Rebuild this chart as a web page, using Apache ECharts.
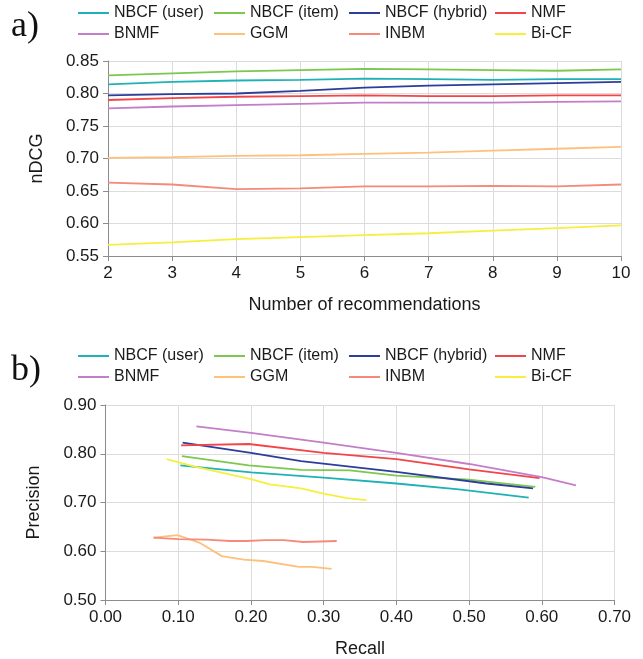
<!DOCTYPE html>
<html><head><meta charset="utf-8">
<script src="https://cdn.jsdelivr.net/npm/echarts@6/dist/echarts.min.js"></script>
<style>html,body{margin:0;padding:0;background:#fff}#c{width:643px;height:659px}</style>
</head><body><div id="c"></div>
<script>
// ---- data ----
const seriesNames = ['NBCF (user)', 'NBCF (item)', 'NBCF (hybrid)', 'NMF', 'BNMF', 'GGM', 'INBM', 'Bi-CF'];
const seriesColors = ['#1fb1b5', '#7cc84e', '#2c3d9c', '#f2454a', '#c47ec8', '#ffc07c', '#f58a7b', '#f6ef3e'];

// a) nDCG vs number of recommendations
const numRecs = [2, 3, 4, 5, 6, 7, 8, 9, 10];
const ndcgUser   = [0.814, 0.818, 0.820, 0.821, 0.823, 0.822, 0.821, 0.822, 0.822];
const ndcgItem   = [0.828, 0.831, 0.834, 0.836, 0.838, 0.837, 0.836, 0.835, 0.837];
const ndcgHybrid = [0.797, 0.799, 0.800, 0.804, 0.809, 0.812, 0.814, 0.816, 0.818];
const ndcgNMF    = [0.790, 0.793, 0.795, 0.796, 0.797, 0.796, 0.796, 0.797, 0.797];
const ndcgBNMF   = [0.777, 0.780, 0.782, 0.784, 0.786, 0.786, 0.786, 0.787, 0.788];
const ndcgGGM    = [0.701, 0.702, 0.704, 0.705, 0.707, 0.709, 0.712, 0.715, 0.718];
const ndcgINBM   = [0.663, 0.660, 0.653, 0.654, 0.657, 0.657, 0.658, 0.657, 0.660];
const ndcgBiCF   = [0.567, 0.571, 0.576, 0.579, 0.582, 0.585, 0.589, 0.593, 0.597];

// b) precision vs recall
const recallUser   = [0.103, 0.200, 0.300, 0.400, 0.486, 0.582];
const precUser     = [0.776, 0.762, 0.751, 0.739, 0.727, 0.710];
const recallItem   = [0.105, 0.197, 0.269, 0.336, 0.400, 0.500, 0.591];
const precItem     = [0.795, 0.776, 0.767, 0.766, 0.755, 0.747, 0.732];
const recallHybrid = [0.106, 0.200, 0.269, 0.400, 0.524, 0.588];
const precHybrid   = [0.823, 0.802, 0.785, 0.763, 0.739, 0.729];
const recallNMF    = [0.104, 0.197, 0.300, 0.400, 0.500, 0.597];
const precNMF      = [0.817, 0.820, 0.802, 0.789, 0.768, 0.750];
const recallBNMF   = [0.125, 0.200, 0.300, 0.400, 0.500, 0.600, 0.647];
const precBNMF     = [0.856, 0.843, 0.823, 0.802, 0.779, 0.752, 0.735];
const recallGGM    = [0.066, 0.099, 0.130, 0.160, 0.190, 0.217, 0.266, 0.284, 0.311];
const precGGM      = [0.628, 0.633, 0.617, 0.590, 0.583, 0.580, 0.568, 0.568, 0.564];
const recallINBM   = [0.066, 0.100, 0.139, 0.171, 0.194, 0.220, 0.245, 0.272, 0.318];
const precINBM     = [0.628, 0.625, 0.624, 0.621, 0.621, 0.623, 0.623, 0.619, 0.621];
const recallBiCF   = [0.084, 0.124, 0.200, 0.226, 0.269, 0.300, 0.332, 0.359];
const precBiCF     = [0.789, 0.773, 0.748, 0.737, 0.729, 0.718, 0.709, 0.705];

// ---- chart ----
const ndcgAll = [ndcgUser, ndcgItem, ndcgHybrid, ndcgNMF, ndcgBNMF, ndcgGGM, ndcgINBM, ndcgBiCF];
const recallAll = [recallUser, recallItem, recallHybrid, recallNMF, recallBNMF, recallGGM, recallINBM, recallBiCF];
const precAll = [precUser, precItem, precHybrid, precNMF, precBNMF, precGGM, precINBM, precBiCF];

const FONT = '"Liberation Sans", Arial, sans-serif';
const TXT = '#1a1a1a';
const axisLine = { show: true, lineStyle: { color: '#8c8c8c', width: 1 } };
const axisTick = { show: true, length: 5, lineStyle: { color: '#8c8c8c' } };
const splitLine = { show: true, lineStyle: { color: '#dcdcdc', width: 1 } };
const labelStyle = (fmt) => ({ fontSize: 17, color: TXT, fontFamily: FONT, margin: 9, formatter: fmt });
const nameStyle = { fontSize: 18, color: TXT, fontFamily: FONT };

const series = [];
seriesNames.forEach((n, i) => {
  series.push({
    name: n, type: 'line', xAxisIndex: 0, yAxisIndex: 0,
    symbol: 'none', showSymbol: false, smooth: false, color: seriesColors[i],
    lineStyle: { width: 1.8, color: seriesColors[i] },
    data: numRecs.map((x, k) => [x, ndcgAll[i][k]])
  });
});
seriesNames.forEach((n, i) => {
  series.push({
    name: n, type: 'line', xAxisIndex: 1, yAxisIndex: 1,
    symbol: 'none', showSymbol: false, smooth: false, color: seriesColors[i],
    lineStyle: { width: 1.8, color: seriesColors[i] },
    data: recallAll[i].map((x, k) => [x, precAll[i][k]])
  });
});

const colLefts = [77, 213, 348, 494];
const legends = [];
[5, 348].forEach(top => {
  for (let c = 0; c < 4; c++) {
    legends.push({
      orient: 'vertical', left: colLefts[c], top: top, padding: 0,
      itemWidth: 31, itemHeight: 14, itemGap: 5, selectedMode: false,
      itemStyle: { opacity: 0 },
      lineStyle: { width: 2 },
      textStyle: { fontSize: 16, color: TXT, fontFamily: FONT, lineHeight: 15 },
      data: [seriesNames[c], seriesNames[c + 4]]
    });
  }
});

const option = {
  animation: false,
  backgroundColor: '#ffffff',
  title: [
    { text: 'a)', left: 11, top: 9, padding: 0, textStyle: { fontFamily: '"Liberation Serif", serif', fontSize: 36, fontWeight: 'normal', color: '#111' } },
    { text: 'b)', left: 11, top: 353, padding: 0, textStyle: { fontFamily: '"Liberation Serif", serif', fontSize: 36, fontWeight: 'normal', color: '#111' } }
  ],
  legend: legends,
  grid: [
    { left: 108, right: 22, top: 61, bottom: 403, containLabel: false },
    { left: 105.5, right: 28.5, top: 405, bottom: 57.5, containLabel: false }
  ],
  xAxis: [
    { type: 'value', gridIndex: 0, min: 2, max: 10, interval: 1,
      name: 'Number of recommendations', nameLocation: 'middle', nameGap: 40, nameTextStyle: nameStyle,
      axisLine, axisTick, splitLine, axisLabel: labelStyle(v => String(v)) },
    { type: 'value', gridIndex: 1, min: 0, max: 0.7, interval: 0.1,
      name: 'Recall', nameLocation: 'middle', nameGap: 40, nameTextStyle: nameStyle,
      axisLine, axisTick, splitLine, axisLabel: labelStyle(v => v.toFixed(2)) }
  ],
  yAxis: [
    { type: 'value', gridIndex: 0, min: 0.55, max: 0.85, interval: 0.05,
      name: 'nDCG', nameLocation: 'middle', nameGap: 62, nameTextStyle: nameStyle,
      axisLine, axisTick, splitLine, axisLabel: labelStyle(v => v.toFixed(2)) },
    { type: 'value', gridIndex: 1, min: 0.5, max: 0.9, interval: 0.1,
      name: 'Precision', nameLocation: 'middle', nameGap: 62, nameTextStyle: nameStyle,
      axisLine, axisTick, splitLine, axisLabel: labelStyle(v => v.toFixed(2)) }
  ],
  series
};

const chart = echarts.init(document.getElementById('c'), null, { renderer: 'canvas' });
chart.setOption(option);
</script>
</body></html>
